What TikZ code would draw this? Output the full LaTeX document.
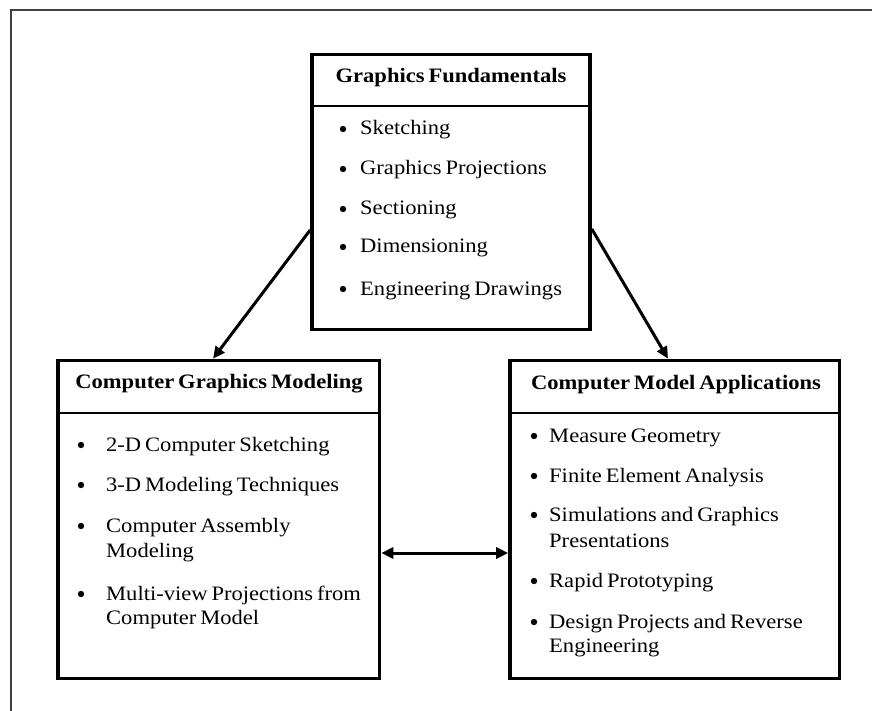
\documentclass[tikz,border=0pt]{standalone}
\usepackage{fontspec}
\setmainfont{Liberation Serif}[FakeStretch=1.1,WordSpace=0.7]
\usetikzlibrary{arrows.meta}
\begin{document}
\begin{tikzpicture}[x=1pt,y=-1pt,
  panel/.style={draw=black,line width=3.6pt,rectangle,inner sep=0pt},
  rule/.style={line width=1.4pt},
  txt/.style={font=\fontsize{20.5}{24}\selectfont,inner sep=0pt},
  head/.style={txt,font=\fontsize{20.5}{24}\selectfont\bfseries,anchor=base},
  entry/.style={txt,anchor=base west},
  dot/.style={circle,fill=black,inner sep=0pt,minimum size=6.4pt},
  link/.style={line width=3pt,-{Triangle[length=12pt,width=11pt]}},
  twoway/.style={line width=3pt,{Triangle[length=12pt,width=11pt]}-{Triangle[length=12pt,width=11pt]}}
]
\useasboundingbox (0,0) rectangle (872,711);
% page frame
\draw[line width=1.6pt,draw=black!75] (11,711) -- (11,10.3) -- (872,10.3);

% the three panels
\node[panel,minimum width=278pt,minimum height=275pt] (gf) at (451,192) {};
\node[panel,minimum width=321.5pt,minimum height=318pt] (cgm) at (218.75,519.5) {};
\node[panel,minimum width=329.5pt,minimum height=318pt] (cma) at (674.75,519.5) {};

% header rules
\coordinate (gfrule) at (0,106);
\coordinate (lowrule) at (0,413);
\draw[rule] (gf.west |- gfrule) -- (gf.east |- gfrule);
\draw[rule] (cgm.west |- lowrule) -- (cgm.east |- lowrule);
\draw[rule] (cma.west |- lowrule) -- (cma.east |- lowrule);

% headers
\node[head] (gfh) at (451,83) {Graphics Fundamentals};
\node[head] (cgmh) at (219,388) {Computer Graphics Modeling};
\node[head] (cmah) at (676,389) {Computer Model Applications};

% Graphics Fundamentals items
\foreach \t/\y [count=\i] in {Sketching/135, Graphics Projections/175,
    Sectioning/215, Dimensioning/253, Engineering Drawings/295} {
  \node[dot] (gfb\i) at (343,\y-6) {};
  \node[entry] (gft\i) at (360,\y) {\t};
}

% Computer Graphics Modeling items
\foreach \y [count=\i] in {451,491,532,600}
  \node[dot] (cgmb\i) at (81,\y-6) {};
\foreach \t/\y [count=\i] in {2-D Computer Sketching/451,
    3-D Modeling Techniques/491, Computer Assembly/532, Modeling/557,
    Multi-view Projections from/600, Computer Model/624}
  \node[entry] (cgmt\i) at (106,\y) {\t};

% Computer Model Applications items
\foreach \y [count=\i] in {442,482,521,587,628}
  \node[dot] (cmab\i) at (534,\y-6) {};
\foreach \t/\y [count=\i] in {Measure Geometry/442,
    Finite Element Analysis/482, Simulations and Graphics/521,
    Presentations/547, Rapid Prototyping/587,
    Design Projects and Reverse/628, Engineering/652}
  \node[entry] (cmat\i) at (549,\y) {\t};

% connectors
\draw[link] ([yshift=-38pt]gf.west) -- ([xshift=-5.75pt]cgm.north);
\draw[link] ([yshift=-37pt]gf.east) -- ([xshift=-6.75pt]cma.north);
\draw[twoway] ([yshift=-33.5pt]cgm.east) -- ([yshift=-33.5pt]cma.west);
\end{tikzpicture}
\end{document}
